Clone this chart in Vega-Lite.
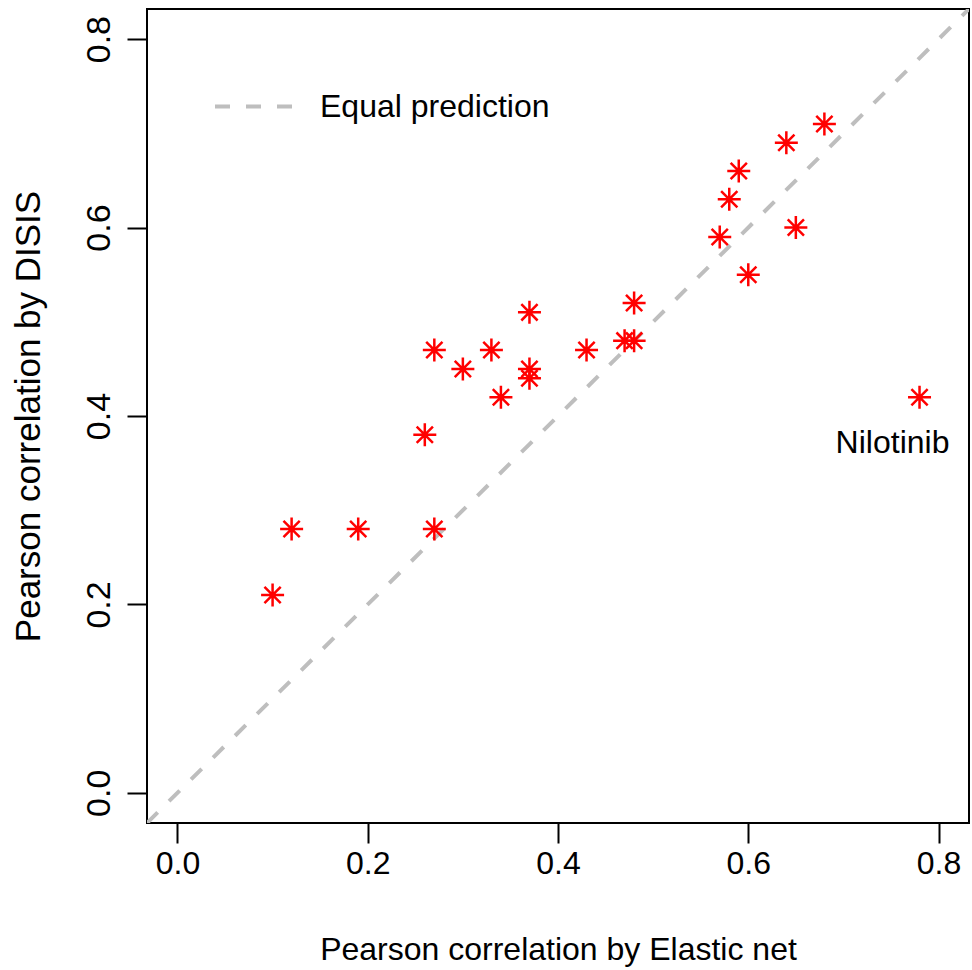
{
  "$schema": "https://vega.github.io/schema/vega-lite/v6.json",
  "autosize": "none",
  "width": 822,
  "height": 814,
  "padding": {"left": 147, "top": 9, "right": 3, "bottom": 147},
  "background": "white",
  "config": {
    "font": "Liberation Sans",
    "view": {"stroke": "black", "strokeWidth": 2},
    "axis": {
      "domain": false,
      "grid": false,
      "tickColor": "black",
      "tickWidth": 2,
      "tickSize": 20,
      "labelFont": "Liberation Sans",
      "labelFontSize": 32,
      "labelColor": "black",
      "titleFont": "Liberation Sans",
      "titleFontSize": 32,
      "titleFontWeight": "normal",
      "titleColor": "black"
    }
  },
  "datasets": {
    "pts": [
      {"en": 0.10, "disis": 0.21, "label": ""},
      {"en": 0.12, "disis": 0.28, "label": ""},
      {"en": 0.19, "disis": 0.28, "label": ""},
      {"en": 0.27, "disis": 0.28, "label": ""},
      {"en": 0.26, "disis": 0.38, "label": ""},
      {"en": 0.27, "disis": 0.47, "label": ""},
      {"en": 0.30, "disis": 0.45, "label": ""},
      {"en": 0.33, "disis": 0.47, "label": ""},
      {"en": 0.34, "disis": 0.42, "label": ""},
      {"en": 0.37, "disis": 0.51, "label": ""},
      {"en": 0.37, "disis": 0.45, "label": ""},
      {"en": 0.37, "disis": 0.44, "label": ""},
      {"en": 0.43, "disis": 0.47, "label": ""},
      {"en": 0.47, "disis": 0.48, "label": ""},
      {"en": 0.48, "disis": 0.48, "label": ""},
      {"en": 0.48, "disis": 0.52, "label": ""},
      {"en": 0.57, "disis": 0.59, "label": ""},
      {"en": 0.58, "disis": 0.63, "label": ""},
      {"en": 0.59, "disis": 0.66, "label": ""},
      {"en": 0.60, "disis": 0.55, "label": ""},
      {"en": 0.64, "disis": 0.69, "label": ""},
      {"en": 0.65, "disis": 0.60, "label": ""},
      {"en": 0.68, "disis": 0.71, "label": ""},
      {"en": 0.78, "disis": 0.42, "label": "Nilotinib"}
    ],
    "diag": [
      {"v": -0.032, "s": "Equal prediction"},
      {"v": 0.832, "s": "Equal prediction"}
    ]
  },
  "layer": [
    {
      "data": {"name": "diag"},
      "mark": {"type": "line", "color": "#BEBEBE", "strokeWidth": 4, "clip": true},
      "encoding": {
        "x": {"field": "v", "type": "quantitative",
              "scale": {"domain": [-0.032, 0.832], "nice": false, "zero": false},
              "axis": {"values": [0, 0.2, 0.4, 0.6, 0.8], "format": ".1f", "labelPadding": 5,
                       "title": "Pearson correlation by Elastic net", "titlePadding": 55}},
        "y": {"field": "v", "type": "quantitative",
              "scale": {"domain": [-0.032, 0.832], "nice": false, "zero": false},
              "axis": {"values": [0, 0.2, 0.4, 0.6, 0.8], "format": ".1f", "labelAngle": -90,
                       "labelAlign": "center", "labelBaseline": "alphabetic", "labelPadding": 18,
                       "labelFontSize": 34,
                       "title": "Pearson correlation by DISIS", "titleFontSize": 35, "titlePadding": 36}},
        "strokeDash": {"field": "s", "type": "nominal",
                       "scale": {"range": [[15, 16]]},
                       "legend": {"orient": "none", "legendX": 66, "legendY": 52, "title": null,
                                  "padding": 0, "symbolType": "stroke", "symbolSize": 7569,
                                  "symbolStrokeWidth": 4, "symbolStrokeColor": "#BEBEBE",
                                  "labelFontSize": 32, "labelFont": "Liberation Sans",
                                  "labelColor": "black", "labelOffset": 16, "labelLimit": 0}}
      }
    },
    {
      "data": {"name": "pts"},
      "mark": {"type": "point", "shape": "M-1,0L1,0M0,-1L0,1M-0.707,-0.707L0.707,0.707M-0.707,0.707L0.707,-0.707",
               "filled": false, "stroke": "#FF0000", "strokeWidth": 2.5, "size": 529, "opacity": 1},
      "encoding": {
        "x": {"field": "en", "type": "quantitative"},
        "y": {"field": "disis", "type": "quantitative"}
      }
    },
    {
      "data": {"name": "pts"},
      "transform": [{"filter": "datum.label != ''"}],
      "mark": {"type": "text", "fontSize": 32, "font": "Liberation Sans", "color": "black",
               "dx": -27, "dy": 46, "align": "center", "baseline": "middle"},
      "encoding": {
        "x": {"field": "en", "type": "quantitative"},
        "y": {"field": "disis", "type": "quantitative"},
        "text": {"field": "label"}
      }
    }
  ]
}
